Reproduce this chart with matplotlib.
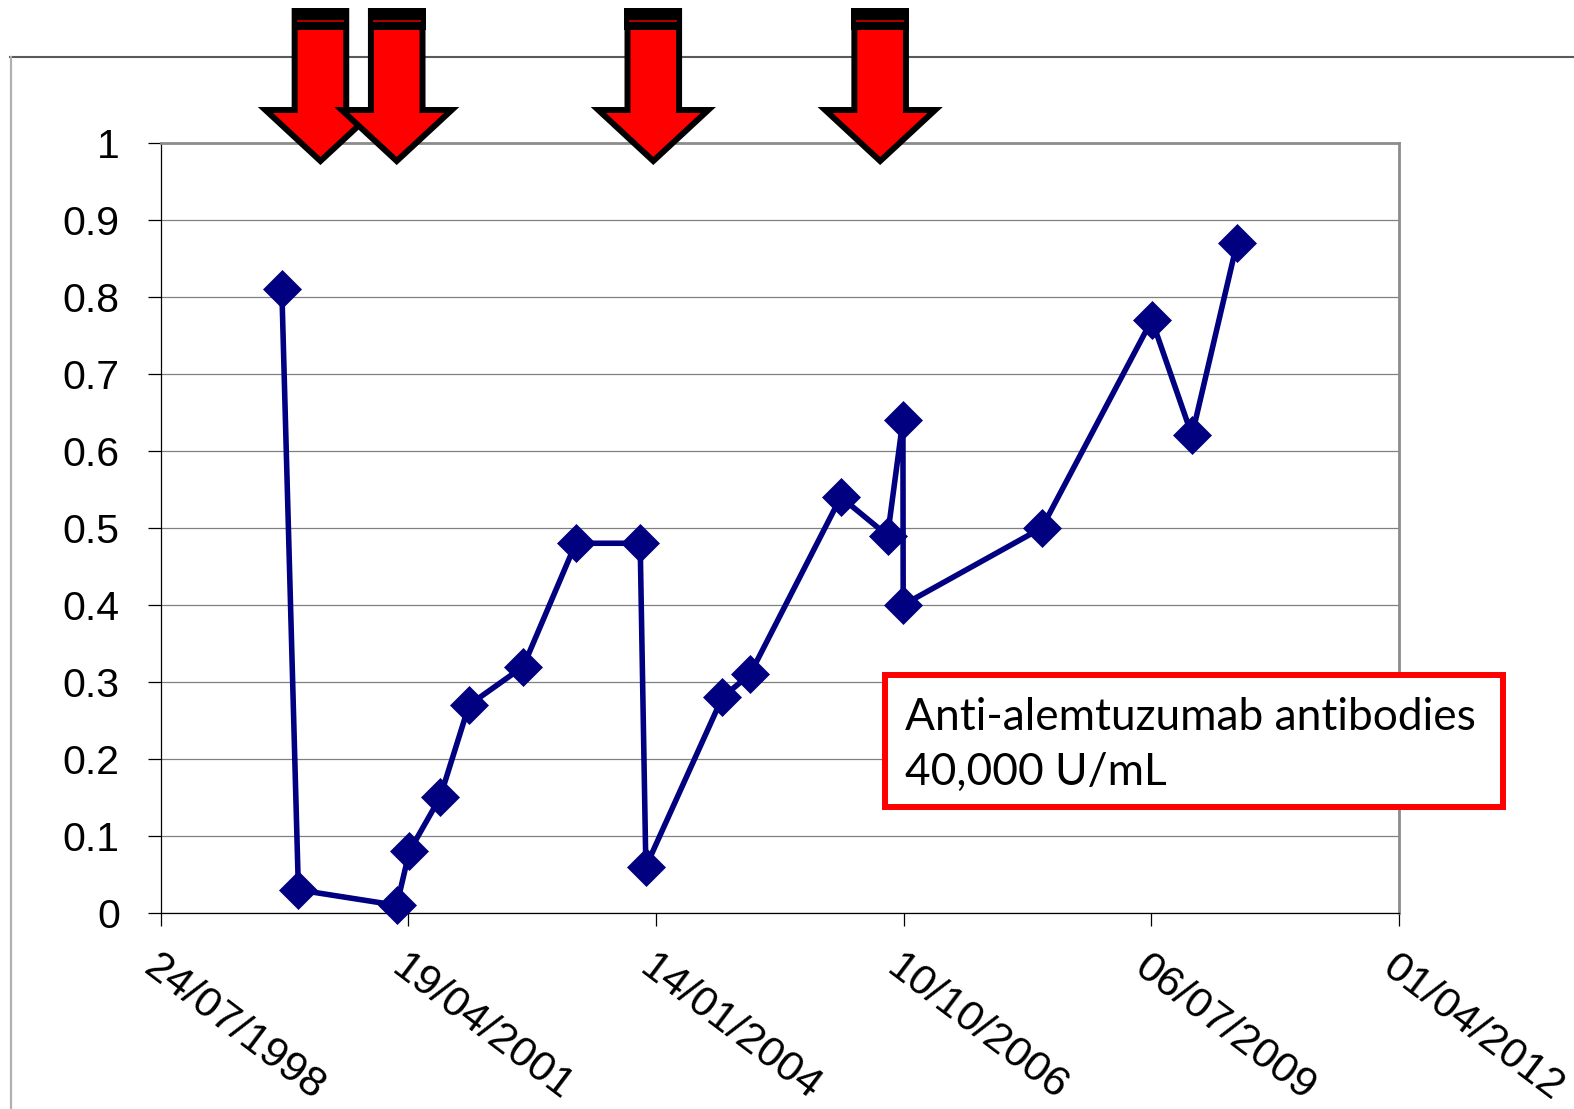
import datetime as dt

import matplotlib
matplotlib.use("Agg")
import matplotlib.pyplot as plt
import matplotlib.dates as mdates
import matplotlib.transforms as mtransforms
from matplotlib.lines import Line2D
from matplotlib.patches import Polygon, Rectangle

# ---- data -----------------------------------------------------------------
sample_dates = [
    "1999-11-25", "2000-01-31", "2001-03-03", "2001-04-23", "2001-08-25",
    "2001-12-20", "2002-07-27", "2003-02-24", "2003-11-11", "2003-12-04",
    "2004-10-08", "2005-01-28", "2006-01-29", "2006-08-06", "2006-10-07",
    "2006-10-08", "2008-04-20", "2009-07-08", "2009-12-17", "2010-06-17",
]
values = [
    0.81, 0.03, 0.01, 0.08, 0.15,
    0.27, 0.32, 0.48, 0.48, 0.06,
    0.28, 0.31, 0.54, 0.49, 0.64,
    0.40, 0.50, 0.77, 0.62, 0.87,
]
# treatment courses, marked with arrows above the plot
course_dates = ["2000-04-29", "2001-03-03", "2004-01-03", "2006-07-07"]

x_tick_dates = ["1998-07-24", "2001-04-19", "2004-01-14",
                "2006-10-10", "2009-07-06", "2012-04-01"]
x_tick_labels = ["24/07/1998", "19/04/2001", "14/01/2004",
                 "10/10/2006", "06/07/2009", "01/04/2012"]
y_ticks = [0, 0.1, 0.2, 0.3, 0.4, 0.5, 0.6, 0.7, 0.8, 0.9, 1.0]
y_tick_labels = ["0", "0.1", "0.2", "0.3", "0.4", "0.5",
                 "0.6", "0.7", "0.8", "0.9", "1"]
note_lines = ["Anti-alemtuzumab antibodies", "40,000 U/mL"]


def to_num(s):
    return mdates.date2num(dt.date.fromisoformat(s))


# ---- figure ---------------------------------------------------------------
W, H, DPI = 1574, 1109, 100
fig = plt.figure(figsize=(W / DPI, H / DPI), dpi=DPI, facecolor="white")


def fx(px):
    return px / W


def fy(py):
    return 1 - py / H


left, right, top, bottom = 160.7, 1399.0, 142.7, 913.0
ax = fig.add_axes([fx(left), fy(bottom), fx(right - left), (bottom - top) / H])

xs = [to_num(d) for d in sample_dates]
ax.plot(xs, values, color="#000080", lw=4.0, marker="D", ms=19,
        mec="#000080", mew=0.5, zorder=3, clip_on=False)

ax.set_xlim(to_num(x_tick_dates[0]), to_num(x_tick_dates[-1]))
ax.set_ylim(0, 1)

ax.set_yticks(y_ticks)
ax.set_yticklabels(y_tick_labels,
                   fontdict=dict(family="Liberation Sans", size=29.5))
ax.set_xticks([to_num(d) for d in x_tick_dates])
ax.set_xticklabels(x_tick_labels,
                   fontdict=dict(family="Liberation Sans", size=31),
                   rotation=-37, ha="left", va="top", rotation_mode="anchor")
shift = mtransforms.ScaledTranslation(8 / DPI, 0, fig.dpi_scale_trans)
for lbl in ax.get_xticklabels():
    lbl.set_transform(lbl.get_transform() + shift)

ax.tick_params(axis="both", direction="out", length=9.4, width=0.9,
               color="black")
ax.tick_params(axis="y", pad=20)
ax.tick_params(axis="x", pad=15)

ax.yaxis.grid(True, color="#808080", lw=0.9)
ax.set_axisbelow(True)

for side in ("left", "bottom"):
    ax.spines[side].set_color("black")
    ax.spines[side].set_linewidth(0.9)
for side in ("top", "right"):
    ax.spines[side].set_color("#8c8c8c")
    ax.spines[side].set_linewidth(2.0)

# ---- outer chart frame ----------------------------------------------------
fig.add_artist(Line2D([fx(10), 1.0], [fy(56.7), fy(56.7)],
                      color="#5a5a5a", lw=1.5, transform=fig.transFigure))
fig.add_artist(Line2D([fx(10.5), fx(10.5)], [fy(56.7), 0.0],
                      color="#b0b0b0", lw=1.6, transform=fig.transFigure))

# ---- treatment arrows -----------------------------------------------------
fig.canvas.draw()
hs, hh = 25.8, 55.0            # shaft / head half widths (px)
y_top, y_base, y_tip = 11.0, 110.0, 161.0
for d in course_dates:
    cx = ax.transData.transform((to_num(d), 0))[0]
    pts = [(cx - hs, y_top), (cx + hs, y_top), (cx + hs, y_base),
           (cx + hh, y_base), (cx, y_tip), (cx - hh, y_base),
           (cx - hs, y_base)]
    fig.add_artist(Polygon([(fx(px), fy(py)) for px, py in pts], closed=True,
                           facecolor="#ff0000", edgecolor="black", lw=4.3,
                           joinstyle="miter", transform=fig.transFigure,
                           zorder=10))
    fig.add_artist(Rectangle((fx(cx - hs - 3), fy(30)), fx(2 * hs + 6),
                             22 / H, facecolor="black", edgecolor="none",
                             transform=fig.transFigure, zorder=10))
    fig.add_artist(Line2D([fx(cx - hs + 3), fx(cx + hs - 3)],
                          [fy(20.7), fy(20.7)], color="#b00000", lw=1.4,
                          transform=fig.transFigure, zorder=11))

# ---- antibody note --------------------------------------------------------
fig.add_artist(Rectangle((fx(885), fy(807)), fx(1503 - 885), (807 - 675) / H,
                         facecolor="white", edgecolor="#ff0000", lw=4.3,
                         transform=fig.transFigure, zorder=12))
note_font = dict(family="Lato", size=33)
t1 = fig.text(fx(905), fy(730), note_lines[0], ha="left", va="baseline",
              zorder=13, **note_font)
t2 = fig.text(fx(905), fy(785), note_lines[1], ha="left", va="baseline",
              zorder=13, **note_font)
fig.canvas.draw()
w = t1.get_window_extent().width
scale = 572.0 / w
for t in (t1, t2):
    t.set_fontsize(note_font["size"] * scale)

fig.savefig("out.png", dpi=DPI, facecolor="white")
